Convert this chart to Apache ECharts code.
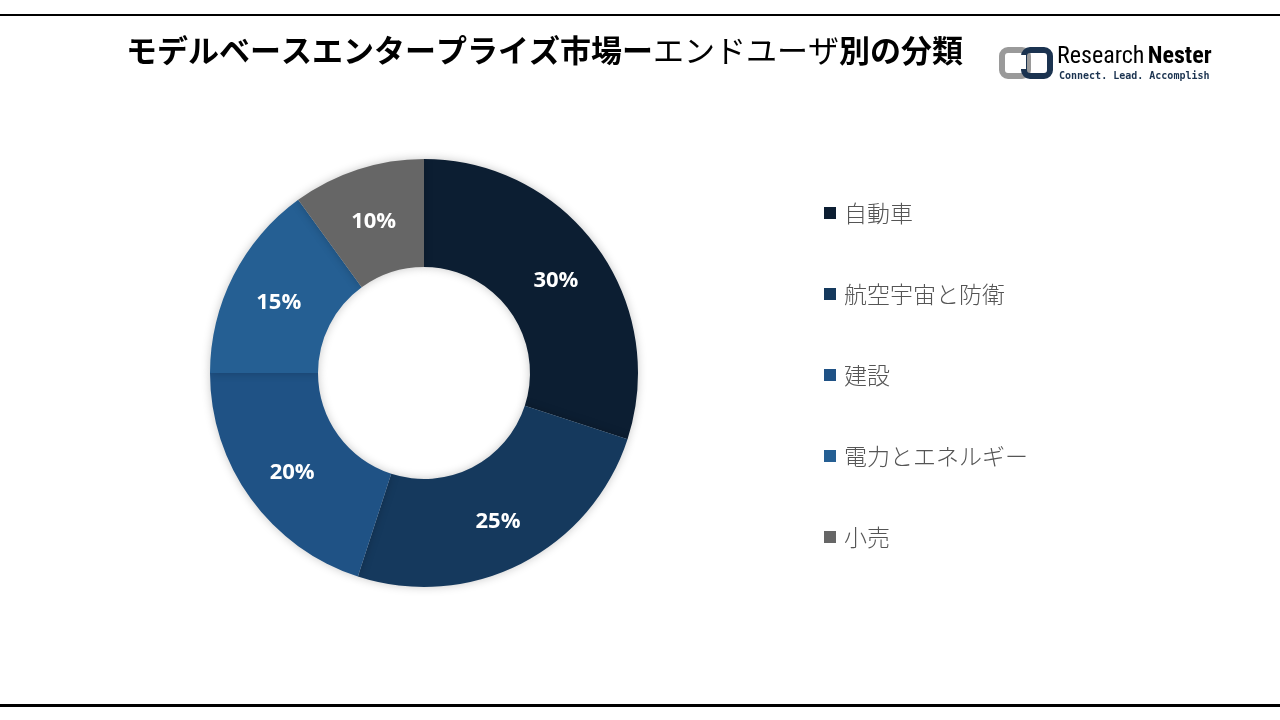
<!DOCTYPE html>
<html><head><meta charset="utf-8">
<script src="https://cdn.jsdelivr.net/npm/echarts@6/dist/echarts.min.js"></script>
<style>html,body{margin:0;padding:0;background:#fff;}#c{width:1280px;height:720px;}</style>
</head><body><div id="c"></div>
<script>
const categories = ['自動車', '航空宇宙と防衛', '建設', '電力とエネルギー', '小売'];
const shares = [30, 25, 20, 15, 10];
const colors = ['#0c1e32', '#15395d', '#1f5285', '#255f93', '#666666'];
const titleBold1 = 'モデルベースエンタープライズ市場ー';
const titleNormal = 'エンドユーザ';
const titleBold2 = '別の分類';

const chart = echarts.init(document.getElementById('c'));
const jp = '"Noto Sans CJK JP", "Noto Sans", sans-serif';
chart.setOption({
  backgroundColor: '#fff',
  title: {
    text: '{b|' + titleBold1 + '}{n|' + titleNormal + '}{b|' + titleBold2 + '}',
    left: 121, top: 30,
    textStyle: {
      rich: {
        b: { fontFamily: jp, fontSize: 31, fontWeight: 'bold', color: '#000' },
        n: { fontFamily: jp, fontSize: 31, fontWeight: 'normal', color: '#000' }
      }
    }
  },
  legend: {
    orient: 'vertical', left: 819, top: 196,
    icon: 'rect', itemWidth: 12, itemHeight: 12, itemGap: 57,
    data: categories,
    textStyle: { fontFamily: jp, fontSize: 23, color: '#555555', lineHeight: 24, fontWeight: 300, padding: [0, 0, 0, 3] }
  },
  graphic: [
    { type: 'rect', shape: { x: 0, y: 14, width: 1280, height: 2 }, style: { fill: '#000' } },
    { type: 'rect', shape: { x: 0, y: 704, width: 1280, height: 3 }, style: { fill: '#000' } },
    { type: 'rect', shape: { x: 1002, y: 50, width: 26, height: 26, r: 6 }, style: { fill: 'none', stroke: '#9a9a9a', lineWidth: 6 } },
    { type: 'rect', shape: { x: 1024, y: 50, width: 26, height: 26, r: 6 }, style: { fill: 'none', stroke: '#1b3350', lineWidth: 6 } },
    { type: 'rect', shape: { x: 1019, y: 55, width: 7, height: 14 }, style: { fill: '#fff' } },
    { type: 'text', left: 1057, top: 45, style: { text: '{r|Research} {n|Nester}', rich: {
        r: { fontFamily: '"Liberation Sans Narrow", "Roboto Condensed", "Arial Narrow", sans-serif', fontSize: 24, color: '#8c8c8c' },
        n: { fontFamily: '"Liberation Sans Narrow", "Roboto Condensed", "Arial Narrow", sans-serif', fontSize: 24, fontWeight: 'bold', color: '#1b3350' } } } },
    { type: 'text', left: 1059, top: 71, style: { text: 'Connect. Lead. Accomplish', fontFamily: '"DejaVu Sans Mono", monospace', fontSize: 10, fontWeight: 'bold', fill: '#1b3350' } }
  ],
  series: [{
    type: 'pie',
    center: [424, 373],
    radius: [106, 214],
    startAngle: 90,
    clockwise: true,
    avoidLabelOverlap: false,
    label: {
      show: true, position: 'inside', formatter: '{c}%',
      fontFamily: '"Open Sans", "Noto Sans", sans-serif', fontSize: 22, fontWeight: 'bold', color: '#fff'
    },
    labelLayout: { dy: 4 },
    labelLine: { show: false },
    itemStyle: { shadowBlur: 10, shadowColor: 'rgba(0,0,0,0.22)' },
    emphasis: { disabled: true },
    data: categories.map((n, i) => ({ name: n, value: shares[i], itemStyle: { color: colors[i] } }))
  }]
});
</script></body></html>
